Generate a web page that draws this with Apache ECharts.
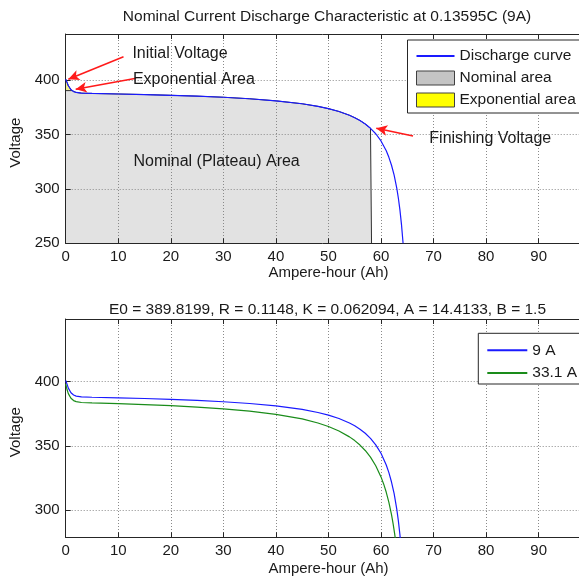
<!DOCTYPE html>
<html><head><meta charset="utf-8">
<script src="https://cdn.jsdelivr.net/npm/echarts@6/dist/echarts.min.js"></script>
<style>html,body{margin:0;padding:0;background:#fff}#c{width:579px;height:578px}</style>
</head><body><div id="c"></div>
<script>
// ---- texts ----
const topTitle = 'Nominal Current Discharge Characteristic at 0.13595C (9A)';
const bottomTitle = 'E0 = 389.8199, R = 0.1148, K = 0.062094, A = 14.4133, B = 1.5';
const xLabel = 'Ampere-hour (Ah)';
const yLabel = 'Voltage';
const topLegend = ['Discharge curve', 'Nominal area', 'Exponential area'];
const bottomLegend = ['9 A', '33.1 A'];
const noteTexts = ['Initial Voltage', 'Exponential Area', 'Nominal (Plateau) Area', 'Finishing Voltage'];

// ---- data (Ampere-hour, Voltage) ----
const ahBlue = [0, 0.25, 0.5, 1, 1.2, 1.5, 2, 3, 5, 10, 15, 20, 25, 30, 35, 40, 45, 48, 50, 52, 54, 55, 56, 57, 58, 58.2, 59, 60, 61, 61.5, 62, 62.5, 63, 63.3, 63.6, 63.9, 64.2];
const vBlue  = [401.0, 398.1, 395.0, 391.4, 390.5, 389.6, 388.8, 388.2, 387.9, 387.4, 386.9, 386.2, 385.4, 384.4, 383.0, 381.1, 378.4, 376.0, 373.9, 371.3, 367.8, 365.6, 363.0, 359.8, 355.8, 354.9, 350.8, 344.2, 335.1, 329.1, 321.8, 312.7, 300.7, 291.7, 280.8, 267.2, 250.0];
const ahGreen = [0, 0.25, 0.5, 1, 1.5, 2, 3, 5, 10, 15, 20, 25, 30, 35, 40, 45, 48, 50, 52, 54, 55, 56, 57, 58, 59, 60, 60.5, 61, 61.5, 62, 62.3, 62.6, 62.9];
const vGreen  = [398.4, 393.9, 390.7, 387.1, 385.3, 384.5, 383.8, 383.5, 382.9, 382.2, 381.3, 380.2, 378.9, 377.1, 374.6, 371.0, 367.8, 365.1, 361.6, 357.0, 354.1, 350.6, 346.4, 341.2, 334.5, 325.8, 320.3, 313.8, 306.0, 296.3, 289.4, 281.4, 272.0];
const expEndAh = 1.2;     // end of exponential zone
const finishAh = 58.2;    // end of nominal zone

// ---- axis ranges ----
const xMin = 0, xMax = 100, xStep = 10;
const yTopMin = 250, yTopMax = 442.6, yStep = 50;
const yBotMin = 278.7, yBotMax = 448.9;

// ---- build ----
const FONT = '"Liberation Sans", Arial, sans-serif';
const INK = '#1a1a1a';
const blueData = ahBlue.map((a, i) => [a, vBlue[i]]);
const greenData = ahGreen.map((a, i) => [a, vGreen[i]]);
const iExp = ahBlue.indexOf(expEndAh);
const iFin = ahBlue.indexOf(finishAh);
const expData = blueData.slice(0, iExp + 1);
const nominalData = [[0, vBlue[iExp]]].concat(blueData.slice(iExp, iFin + 1), [[finishAh, yTopMin]]);

const grids = [
  { left: 65.7, top: 34, width: 525.5, height: 209.3, outerBoundsMode: 'none', containLabel: false },
  { left: 65.7, top: 319, width: 525.5, height: 218.3, outerBoundsMode: 'none', containLabel: false }
];
function xMain(gi, nameGap) {
  return {
    type: 'value', gridIndex: gi, min: xMin, max: xMax, interval: xStep, z: 3,
    axisLine: { show: true, onZero: false, lineStyle: { color: '#262626', width: 1 } },
    axisTick: { show: true, inside: true, length: 5, lineStyle: { color: '#262626' } },
    axisLabel: { fontSize: 15, color: INK, margin: 6, fontFamily: FONT },
    splitLine: { show: true, lineStyle: { type: [1, 2], color: '#8a8a8a', width: 1 } },
    name: xLabel, nameLocation: 'middle', nameGap: nameGap,
    nameTextStyle: { fontSize: 15, color: INK, fontFamily: FONT }
  };
}
function xFrame(gi) {
  return {
    type: 'value', gridIndex: gi, position: 'top', min: xMin, max: xMax, interval: xStep, z: 3,
    axisLine: { show: true, onZero: false, lineStyle: { color: '#262626', width: 1 } },
    axisTick: { show: true, inside: true, length: 5, lineStyle: { color: '#262626' } },
    axisLabel: { show: false }, splitLine: { show: false }
  };
}
function yMain(gi, extra) {
  return Object.assign({
    type: 'value', gridIndex: gi, z: 3,
    axisLine: { show: true, onZero: false, lineStyle: { color: '#262626', width: 1 } },
    axisTick: { show: true, inside: true, length: 5, lineStyle: { color: '#262626' } },
    axisLabel: { fontSize: 15, color: INK, margin: 6, fontFamily: FONT,
      formatter: v => (Math.abs(v % yStep) < 1e-6 ? String(v) : '') },
    splitLine: { show: true, lineStyle: { type: [1, 2], color: '#8a8a8a', width: 1 } },
    name: yLabel, nameLocation: 'middle', nameGap: 38,
    nameTextStyle: { fontSize: 15, color: INK, fontFamily: FONT, padding: [0, 8, 0, 0] }
  }, extra);
}

const noteLabel = { show: true, position: 'right', distance: 0, fontSize: 16, color: INK, fontFamily: FONT, formatter: p => p.name };
const lineLegendItem = n => ({ name: n, itemStyle: { opacity: 0 } });

const option = {
  animation: false,
  backgroundColor: '#fff',
  grid: grids,
  xAxis: [xMain(0, 20), xFrame(0), xMain(1, 24), xFrame(1)],
  yAxis: [
    yMain(0, { min: yTopMin, max: yTopMax, interval: yStep }),
    yMain(1, { min: yBotMin, max: yBotMax, splitNumber: 3 })
  ],
  legend: [
    {
      orient: 'vertical', left: 407.5, top: 40, z: 10, selectedMode: false,
      itemWidth: 38, itemHeight: 14, itemGap: 6, padding: [8, 6, 5, 8],
      borderColor: '#262626', borderWidth: 1, backgroundColor: '#fff',
      textStyle: { fontSize: 15.5, color: INK, fontFamily: FONT, lineHeight: 14 },
      data: [
        lineLegendItem(topLegend[0]),
        { name: topLegend[1], icon: 'rect', itemStyle: { color: '#c4c4c4', borderColor: '#404040', borderWidth: 1 } },
        { name: topLegend[2], icon: 'rect', itemStyle: { color: '#ffff00', borderColor: '#404040', borderWidth: 1 } }
      ]
    },
    {
      orient: 'vertical', left: 478.3, top: 333.3, z: 10, selectedMode: false,
      itemWidth: 40, itemHeight: 14, itemGap: 6.7, padding: [9, 6, 3, 8],
      borderColor: '#262626', borderWidth: 1, backgroundColor: '#fff',
      textStyle: { fontSize: 15.5, color: INK, fontFamily: FONT, lineHeight: 14 },
      data: bottomLegend.map(lineLegendItem)
    }
  ],
  graphic: [
    { type: 'text', x: 327, y: 17, style: { text: topTitle, align: 'center', verticalAlign: 'middle', fontSize: 15.5, fontFamily: FONT, fill: INK } },
    { type: 'text', x: 327.5, y: 310, style: { text: bottomTitle, align: 'center', verticalAlign: 'middle', fontSize: 15.5, fontFamily: FONT, fill: INK } }
  ],
  series: [
    {
      name: topLegend[0], type: 'line', xAxisIndex: 0, yAxisIndex: 0, z: 4,
      data: blueData, showSymbol: false, symbol: 'none',
      lineStyle: { color: '#1a1aff', width: 1.2 }, itemStyle: { color: '#1a1aff' },
      markLine: {
        silent: true, symbol: ['none', 'arrow'], symbolSize: [8, 11],
        label: { show: false },
        lineStyle: { color: '#ff1a1a', width: 1.5, type: 'solid' },
        data: [
          [{ coord: [11.0, 421.7] }, { coord: [0.5, 400.9] }],
          [{ coord: [13.4, 401.8] }, { coord: [1.9, 391.7] }],
          [{ coord: [66.1, 348.7] }, { coord: [59.1, 355.8] }]
        ]
      },
      markPoint: {
        silent: true, symbol: 'circle', symbolSize: 1, itemStyle: { color: 'rgba(0,0,0,0)' },
        label: noteLabel,
        data: [
          { name: noteTexts[0], coord: [12.6, 424.8] },
          { name: noteTexts[1], coord: [12.7, 400.3] },
          { name: noteTexts[2], coord: [12.8, 325.1] },
          { name: noteTexts[3], coord: [69.1, 346.7] }
        ]
      }
    },
    {
      name: topLegend[1], type: 'line', xAxisIndex: 0, yAxisIndex: 0, z: 2,
      data: nominalData, showSymbol: false, symbol: 'none',
      lineStyle: { color: '#303030', width: 1 }, itemStyle: { color: '#c4c4c4' },
      areaStyle: { color: 'rgba(190,190,190,0.45)', origin: 'start', opacity: 1 }
    },
    {
      name: topLegend[2], type: 'line', xAxisIndex: 0, yAxisIndex: 0, z: 2,
      data: expData, showSymbol: false, symbol: 'none',
      lineStyle: { color: '#303030', width: 1 }, itemStyle: { color: '#ffff00' },
      areaStyle: { color: 'rgba(230,230,60,0.6)', origin: vBlue[iExp], opacity: 1 }
    },
    {
      name: bottomLegend[0], type: 'line', xAxisIndex: 2, yAxisIndex: 1, z: 4,
      data: blueData, showSymbol: false, symbol: 'none',
      lineStyle: { color: '#1a1aff', width: 1.2 }, itemStyle: { color: '#1a1aff' }
    },
    {
      name: bottomLegend[1], type: 'line', xAxisIndex: 2, yAxisIndex: 1, z: 4,
      data: greenData, showSymbol: false, symbol: 'none',
      lineStyle: { color: '#1a8c1a', width: 1.2 }, itemStyle: { color: '#1a8c1a' }
    }
  ]
};
const chart = echarts.init(document.getElementById('c'), null, { renderer: 'canvas' });
chart.setOption(option);
</script></body></html>
